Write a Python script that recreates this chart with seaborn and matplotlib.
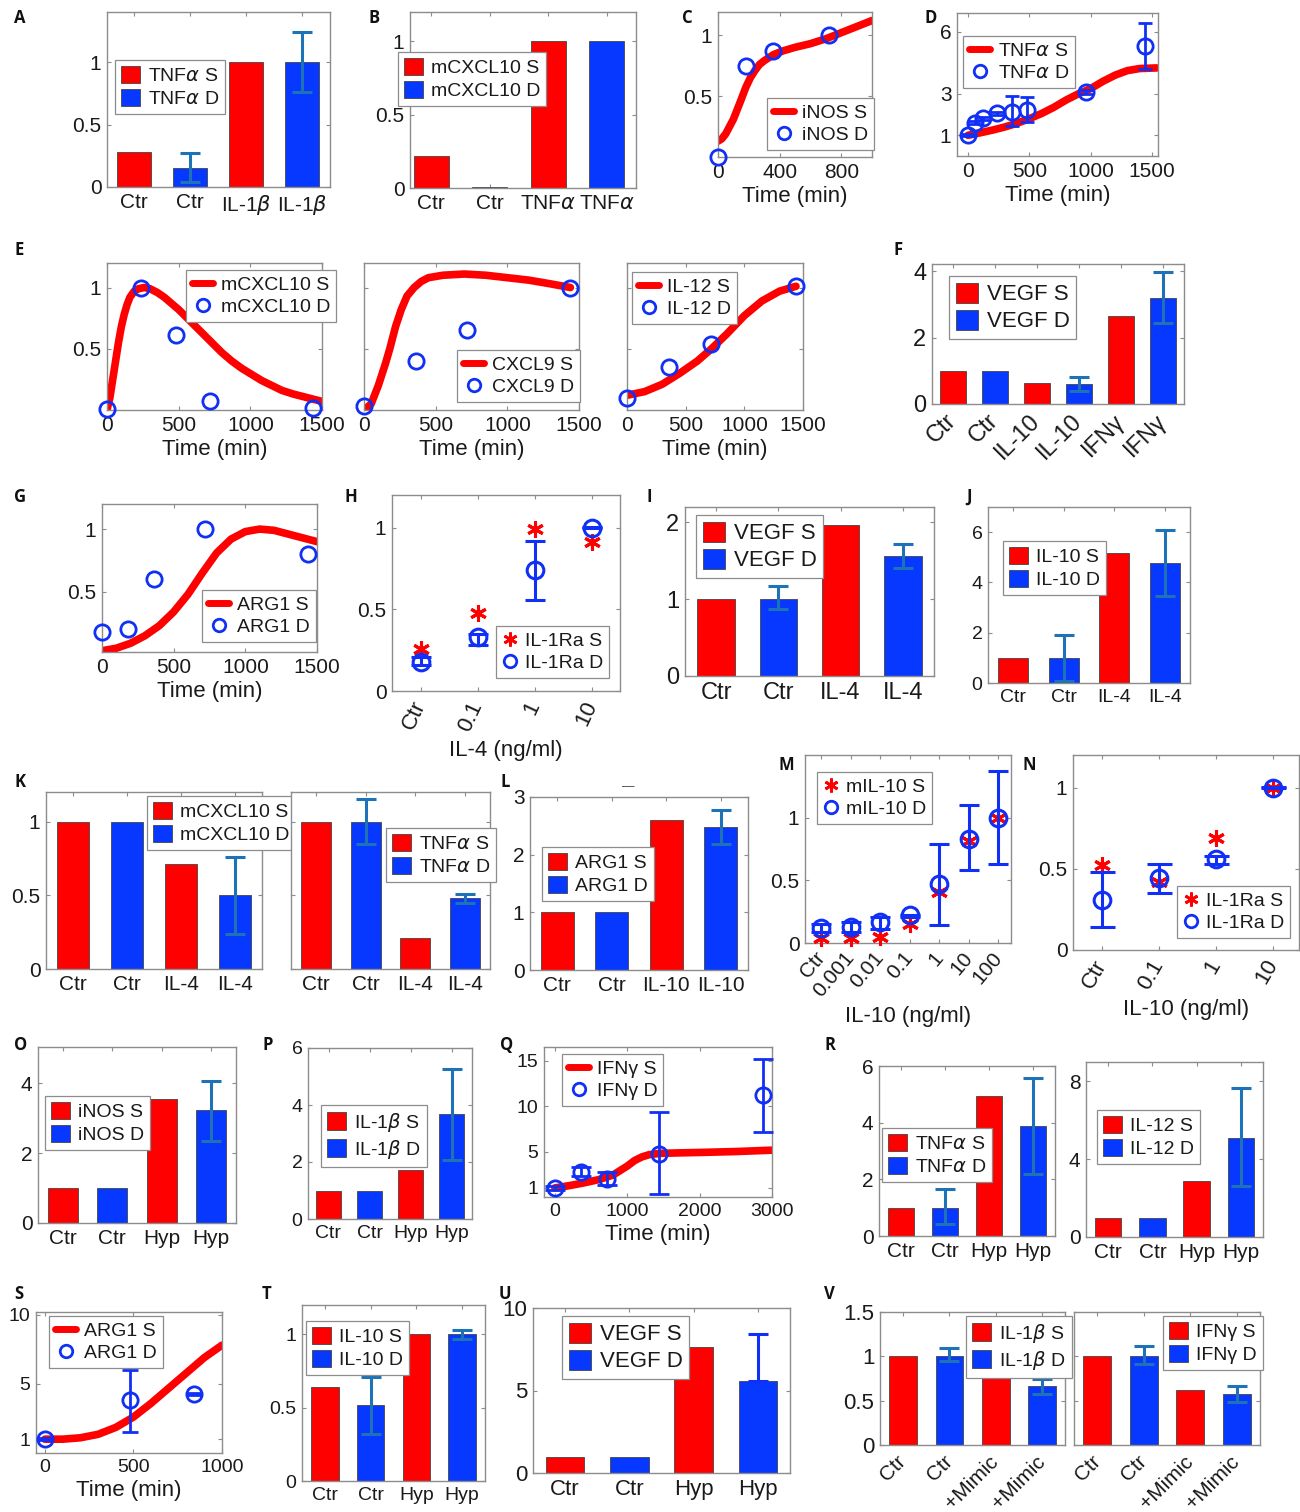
import numpy as np
import pandas as pd
import matplotlib
matplotlib.use("Agg")
import matplotlib.pyplot as plt
import seaborn as sns
from matplotlib.patches import Patch
from matplotlib.lines import Line2D

sns.set_theme(style="white")
plt.rcParams['font.family'] = ['Liberation Sans', 'DejaVu Sans']
plt.rcParams['mathtext.fontset'] = 'dejavusans'

# ---------------- data ----------------
A_labels = ['Ctr', 'Ctr', r'IL-1$\beta$', r'IL-1$\beta$']
A_vals = [0.28, 0.15, 1.0, 1.0]
A_lo = [None, 0.04, None, 0.76]
A_hi = [None, 0.27, None, 1.24]

B_labels = ['Ctr', 'Ctr', r'TNF$\alpha$', r'TNF$\alpha$']
B_vals = [0.22, 0.01, 1.0, 1.0]

C_curve_t = [0, 25, 50, 75, 100, 125, 150, 180, 210, 240, 270, 300, 360, 420, 500, 600, 700, 800, 900, 1000]
C_curve_v = [0.13, 0.15, 0.19, 0.25, 0.31, 0.39, 0.47, 0.57, 0.65, 0.71, 0.76, 0.79, 0.84, 0.87, 0.90, 0.93, 0.97, 1.02, 1.07, 1.12]
C_pts_t = [0, 180, 360, 720]
C_pts_v = [0.0, 0.75, 0.87, 1.0]

D_curve_t = [0, 100, 200, 300, 400, 500, 600, 700, 800, 900, 1000, 1100, 1200, 1300, 1400, 1540]
D_curve_v = [1.0, 1.12, 1.25, 1.4, 1.58, 1.8, 2.05, 2.35, 2.7, 3.0, 3.25, 3.6, 3.9, 4.12, 4.22, 4.25]
D_pts_t = [0, 60, 120, 240, 360, 480, 960, 1440]
D_pts_v = [1.0, 1.6, 1.82, 2.06, 2.14, 2.2, 3.1, 5.3]
D_lo = [0.95, 1.52, 1.74, 1.98, 1.43, 1.66, 3.0, 4.2]
D_hi = [1.05, 1.68, 1.9, 2.14, 2.88, 2.85, 3.2, 6.4]

E1_curve_t = [0, 20, 40, 60, 80, 100, 120, 140, 160, 190, 220, 260, 300, 350, 400, 450, 500, 560, 620,
              680, 740, 800, 870, 940, 1010, 1080, 1150, 1220, 1300, 1400, 1500]
E1_curve_v = [0.0, 0.1, 0.25, 0.4, 0.55, 0.68, 0.78, 0.86, 0.92, 0.97, 0.99, 1.0, 0.99, 0.96, 0.92, 0.87,
              0.82, 0.75, 0.68, 0.61, 0.54, 0.47, 0.4, 0.34, 0.29, 0.24, 0.2, 0.16, 0.13, 0.1, 0.07]
E1_pts_t = [0, 240, 480, 720, 1440]
E1_pts_v = [0.01, 1.0, 0.61, 0.07, 0.02]

E2_curve_t = [0, 50, 100, 150, 180, 220, 260, 300, 350, 400, 450, 550, 700, 850, 1000, 1150, 1300, 1440]
E2_curve_v = [0.0, 0.05, 0.2, 0.38, 0.5, 0.68, 0.82, 0.93, 1.0, 1.05, 1.08, 1.1, 1.11, 1.1, 1.08, 1.06, 1.03, 1.0]
E2_pts_t = [0, 360, 720, 1440]
E2_pts_v = [0.03, 0.4, 0.65, 1.0]

E3_curve_t = [0, 150, 300, 450, 600, 720, 850, 1000, 1150, 1300, 1440]
E3_curve_v = [0.12, 0.15, 0.21, 0.3, 0.4, 0.5, 0.62, 0.77, 0.89, 0.97, 1.01]
E3_pts_t = [0, 360, 720, 1440]
E3_pts_v = [0.1, 0.35, 0.54, 1.01]

F_labels = ['Ctr', 'Ctr', 'IL-10', 'IL-10', 'IFNγ', 'IFNγ']
F_vals = [1.0, 1.0, 0.62, 0.59, 2.66, 3.19]
F_lo = [None, None, None, 0.4, None, 2.43]
F_hi = [None, None, None, 0.8, None, 3.97]

G_curve_t = [0, 100, 200, 300, 400, 500, 600, 700, 800, 900, 1000, 1100, 1200, 1300, 1400, 1500]
G_curve_v = [0.03, 0.05, 0.09, 0.15, 0.23, 0.34, 0.48, 0.65, 0.81, 0.92, 0.98, 1.0, 0.99, 0.96, 0.93, 0.9]
G_pts_t = [0, 180, 360, 720, 1440]
G_pts_v = [0.18, 0.2, 0.6, 1.0, 0.8]

H_labels = ['Ctr', '0.1', '1', '10']
H_S = [0.26, 0.48, 0.99, 0.91]
H_D = [0.18, 0.33, 0.74, 1.0]
H_lo = [0.16, 0.28, 0.56, 0.995]
H_hi = [0.21, 0.35, 0.92, 1.005]

I_labels = ['Ctr', 'Ctr', 'IL-4', 'IL-4']
I_vals = [1.0, 1.0, 1.97, 1.56]
I_lo = [None, 0.87, None, 1.4]
I_hi = [None, 1.17, None, 1.72]

J_labels = ['Ctr', 'Ctr', 'IL-4', 'IL-4']
J_vals = [1.0, 1.0, 5.16, 4.76]
J_lo = [None, 0.09, None, 3.47]
J_hi = [None, 1.89, None, 6.07]

K1_labels = ['Ctr', 'Ctr', 'IL-4', 'IL-4']
K1_vals = [1.0, 1.0, 0.71, 0.5]
K1_lo = [None, None, None, 0.24]
K1_hi = [None, None, None, 0.76]

K2_vals = [1.0, 1.0, 0.21, 0.48]
K2_lo = [None, 0.85, None, 0.45]
K2_hi = [None, 1.15, None, 0.51]

L_labels = ['Ctr', 'Ctr', 'IL-10', 'IL-10']
L_vals = [1.0, 1.0, 2.6, 2.48]
L_lo = [None, None, None, 2.18]
L_hi = [None, None, None, 2.77]

M_labels = ['Ctr', '0.001', '0.01', '0.1', '1', '10', '100']
M_S = [0.04, 0.04, 0.05, 0.15, 0.41, 0.81, 1.0]
M_D = [0.12, 0.13, 0.165, 0.22, 0.47, 0.83, 1.0]
M_lo = [0.085, 0.085, 0.115, 0.205, 0.14, 0.58, 0.63]
M_hi = [0.15, 0.17, 0.21, 0.225, 0.79, 1.1, 1.37]

N_labels = ['Ctr', '0.1', '1', '10']
N_S = [0.52, 0.42, 0.69, 1.0]
N_D = [0.31, 0.44, 0.56, 1.0]
N_lo = [0.14, 0.35, 0.53, 0.995]
N_hi = [0.48, 0.53, 0.58, 1.005]

O_labels = ['Ctr', 'Ctr', 'Hyp', 'Hyp']
O_vals = [1.0, 1.0, 3.55, 3.22]
O_lo = [None, None, None, 2.34]
O_hi = [None, None, None, 4.05]

P_vals = [1.0, 1.0, 1.72, 3.68]
P_lo = [None, None, None, 2.08]
P_hi = [None, None, None, 5.28]

Q_curve_t = [0, 200, 400, 600, 800, 900, 1000, 1100, 1200, 1300, 1450, 1700, 2000, 2500, 3000]
Q_curve_v = [1.0, 1.25, 1.55, 1.9, 2.4, 2.9, 3.4, 4.0, 4.4, 4.65, 4.8, 4.85, 4.9, 5.0, 5.15]
Q_pts_t = [0, 360, 720, 1440, 2880]
Q_pts_v = [1.0, 2.8, 2.0, 4.7, 11.2]
Q_lo = [0.8, 2.3, 1.3, 0.3, 7.1]
Q_hi = [1.2, 3.3, 2.7, 9.3, 15.2]

R1_vals = [1.0, 1.0, 4.94, 3.88]
R1_lo = [None, 0.42, None, 2.19]
R1_hi = [None, 1.65, None, 5.56]

R2_vals = [1.0, 1.0, 2.87, 5.11]
R2_lo = [None, None, None, 2.62]
R2_hi = [None, None, None, 7.66]

S_curve_t = [0, 100, 200, 300, 400, 500, 600, 700, 800, 900, 1000]
S_curve_v = [1.0, 1.0, 1.1, 1.35, 1.85, 2.6, 3.6, 4.7, 5.8, 6.9, 7.8]
S_pts_t = [0, 480, 840]
S_pts_v = [1.0, 3.8, 4.3]
S_lo = [0.93, 1.5, 4.23]
S_hi = [1.07, 6.0, 4.37]

T_vals = [0.64, 0.52, 1.0, 1.0]
T_lo = [None, 0.32, None, 0.97]
T_hi = [None, 0.71, None, 1.03]

U_vals = [1.0, 1.0, 7.63, 5.6]
U_hi = [None, None, None, 8.42]

V_labels = ['Ctr', 'Ctr', '+Mimic', '+Mimic']
V1_vals = [1.0, 1.0, 0.85, 0.66]
V1_lo = [None, 0.95, None, 0.58]
V1_hi = [None, 1.09, None, 0.75]
V2_vals = [1.0, 1.0, 0.62, 0.57]
V2_lo = [None, 0.91, None, 0.48]
V2_hi = [None, 1.12, None, 0.67]

# ---------------- styling ----------------
W, H = 1300, 1512
RED = '#ff0000'
BLUE = '#0638ff'
PBLUE = '#1030f5'
ERR = '#1f72b5'
EDGE = '#444444'
SPINE = '#8c8c8c'
TXT = '#1a1a1a'

fig = plt.figure(figsize=(W / 100, H / 100), dpi=100)
fig.patch.set_facecolor('white')


def add_ax(l, t, r, b):
    return fig.add_axes([l / W, 1 - b / H, (r - l) / W, (b - t) / H])


def style(ax, fs):
    for s in ax.spines.values():
        s.set_visible(True)
        s.set_color(SPINE)
        s.set_linewidth(1.0)
    ax.tick_params(direction='in', length=3, width=0.8, color=SPINE,
                   bottom=True, left=True, top=True, right=True,
                   labelsize=fs, labelcolor=TXT, pad=4)
    ax.set_xlabel('')
    ax.set_ylabel('')
    ax.set_facecolor('white')


def legend(ax, handles, labels, xy, fs, hl=1.0, hh=1.0):
    leg = ax.legend(handles, labels, loc='upper left',
                    bbox_to_anchor=(xy[0] / W, 1 - xy[1] / H),
                    bbox_transform=fig.transFigure, fontsize=fs,
                    frameon=True, fancybox=False, framealpha=1,
                    edgecolor=SPINE, borderpad=0.3, labelspacing=0.2,
                    handlelength=hl, handleheight=hh, handletextpad=0.4,
                    borderaxespad=0)
    leg.get_frame().set_linewidth(0.9)
    leg.set_zorder(10)
    for t in leg.get_texts():
        t.set_color(TXT)
    return leg


def fmt(v):
    return f'{v:g}'


def bar_panel(box, labels, vals, gene, lo, hi, ylim, yticks, leg_xy,
              xlim=None, fs=15, lfs=14, rot=0, ecolor=ERR, show_yl=True,
              cap=7, upper_only=False, xfs=None):
    ax = add_ax(*box)
    n = len(vals)
    names = [gene + (' S' if i % 2 == 0 else ' D') for i in range(n)]
    df = pd.DataFrame({'pos': np.arange(n), 'val': vals, 'series': names})
    sns.barplot(data=df, x='pos', y='val', hue='series',
                hue_order=[gene + ' S', gene + ' D'], palette=[RED, BLUE],
                dodge=False, width=0.6, saturation=1, edgecolor=EDGE,
                linewidth=0.6, legend=False, errorbar=None, ax=ax)
    for i in range(n):
        if hi is None or hi[i] is None:
            continue
        low = 0 if upper_only else vals[i] - lo[i]
        ax.errorbar(i, vals[i], yerr=[[low], [hi[i] - vals[i]]], fmt='none',
                    ecolor=ecolor, elinewidth=2.2, capsize=cap, capthick=2.2,
                    zorder=5)
    ax.set_xlim(*(xlim if xlim else (-0.5, n - 0.5)))
    ax.set_ylim(*ylim)
    ax.set_yticks(yticks)
    ax.set_yticklabels([fmt(v) for v in yticks] if show_yl else [])
    ax.set_xticks(range(n))
    if rot:
        ax.set_xticklabels(labels, rotation=rot, ha='right', va='center',
                           rotation_mode='anchor')
    else:
        ax.set_xticklabels(labels)
    style(ax, fs)
    if xfs:
        ax.tick_params(axis='x', labelsize=xfs)
    if rot:
        ax.tick_params(axis='x', pad=10)
    handles = [Patch(facecolor=RED, edgecolor=EDGE, linewidth=0.6),
               Patch(facecolor=BLUE, edgecolor=EDGE, linewidth=0.6)]
    legend(ax, handles, [gene + ' S', gene + ' D'], leg_xy, lfs)
    return ax


def line_handles():
    return [Line2D([0], [0], color=RED, lw=5),
            Line2D([0], [0], ls='none', marker='o', ms=9, mfc='none',
                   mec=PBLUE, mew=2)]


def time_panel(box, tc, vc, tp, vp, lo, hi, gene, xlim, xticks, ylim, yticks,
               leg_xy, fs=15, lfs=14, show_yl=True, cap=6, xlabel='Time (min)',
               xfs=16):
    ax = add_ax(*box)
    sns.lineplot(x=tc, y=vc, color=RED, linewidth=5.5, ax=ax, zorder=2)
    if lo is not None:
        tp_a = np.array(tp, float)
        vp_a = np.array(vp, float)
        ax.errorbar(tp_a, vp_a, yerr=[vp_a - np.array(lo), np.array(hi) - vp_a],
                    fmt='none', ecolor=PBLUE, elinewidth=2, capsize=cap,
                    capthick=2, zorder=3, clip_on=False)
    sns.lineplot(x=tp, y=vp, linestyle='none', marker='o', markersize=11,
                 markerfacecolor='none', markeredgecolor=PBLUE,
                 markeredgewidth=2, ax=ax, zorder=4, clip_on=False)
    ax.set_xlim(*xlim)
    ax.set_xticks(xticks)
    ax.set_xticklabels([fmt(v) for v in xticks])
    ax.set_ylim(*ylim)
    ax.set_yticks(yticks)
    ax.set_yticklabels([fmt(v) for v in yticks] if show_yl else [])
    style(ax, fs)
    if xlabel:
        ax.set_xlabel(xlabel, fontsize=xfs, color=TXT, labelpad=3)
    legend(ax, line_handles(), [gene + ' S', gene + ' D'], leg_xy, lfs, hl=1.1, hh=0.8)
    return ax


STAR = (6, 2, 0)


def point_panel(box, labels, s_vals, d_vals, lo, hi, gene, ylim, yticks, xlim,
                xlabel, leg_xy, rot, fs=15, lfs=14, cap=7, xfs=16, tfs=16):
    ax = add_ax(*box)
    pos = np.arange(len(labels))
    d = np.array(d_vals, float)
    sns.lineplot(x=pos, y=s_vals, linestyle='none', marker=STAR, markersize=12,
                 color=RED, markeredgecolor=RED, markeredgewidth=2.2, ax=ax,
                 zorder=3, clip_on=False)
    ax.errorbar(pos, d, yerr=[d - np.array(lo), np.array(hi) - d], fmt='none',
                ecolor=PBLUE, elinewidth=2.2, capsize=cap, capthick=2.2,
                zorder=4, clip_on=False)
    sns.lineplot(x=pos, y=d, linestyle='none', marker='o', markersize=12,
                 markerfacecolor='none', markeredgecolor=PBLUE,
                 markeredgewidth=2.2, ax=ax, zorder=5, clip_on=False)
    ax.set_xlim(*xlim)
    ax.set_ylim(*ylim)
    ax.set_yticks(yticks)
    ax.set_yticklabels([fmt(v) for v in yticks])
    ax.set_xticks(pos)
    ax.set_xticklabels(labels, rotation=rot, ha='right', va='center',
                       rotation_mode='anchor')
    style(ax, fs)
    ax.tick_params(axis='x', pad=8, labelsize=tfs)
    ax.set_xlabel(xlabel, fontsize=xfs, color=TXT, labelpad=4)
    handles = [Line2D([0], [0], ls='none', marker=STAR, ms=10, color=RED, mew=2),
               Line2D([0], [0], ls='none', marker='o', ms=9, mfc='none',
                      mec=PBLUE, mew=2)]
    legend(ax, handles, [gene + ' S', gene + ' D'], leg_xy, lfs, hl=0.8, hh=0.8)
    return ax


TNF = r'TNF$\alpha$'
IL1B = r'IL-1$\beta$'

# ---------------- row 1 ----------------
bar_panel((107, 12, 330, 187), A_labels, A_vals, TNF, A_lo, A_hi, (0, 1.4),
          [0, 0.5, 1], (115, 60), xlim=(-0.48, 3.5))
bar_panel((410, 12, 636, 188), B_labels, B_vals, 'mCXCL10', None, None,
          (0, 1.2), [0, 0.5, 1], (398, 52), xlim=(-0.36, 3.5))
time_panel((718, 12, 872, 157), C_curve_t, C_curve_v, C_pts_t, C_pts_v, None,
           None, 'iNOS', (0, 1000), [0, 400, 800], (0, 1.19), [0.5, 1],
           (767, 98))
time_panel((957, 13, 1158, 156), D_curve_t, D_curve_v, D_pts_t, D_pts_v, D_lo,
           D_hi, TNF, (-90, 1550), [0, 500, 1000, 1500], (0, 6.9), [1, 3, 6],
           (963, 36), cap=5)

# ---------------- row 2 ----------------
time_panel((107, 263, 322, 410), E1_curve_t, E1_curve_v, E1_pts_t, E1_pts_v,
           None, None, 'mCXCL10', (0, 1500), [0, 500, 1000, 1500], (0, 1.2),
           [0.5, 1], (186, 270))
time_panel((364, 263, 579, 410), E2_curve_t, E2_curve_v, E2_pts_t, E2_pts_v,
           None, None, 'CXCL9', (0, 1500), [0, 500, 1000, 1500], (0, 1.2),
           [0.5, 1], (457, 350), show_yl=False)
time_panel((627, 263, 803, 410), E3_curve_t, E3_curve_v, E3_pts_t, E3_pts_v,
           None, None, 'IL-12', (0, 1500), [0, 500, 1000, 1500], (0, 1.2),
           [0.5, 1], (632, 272), show_yl=False)
bar_panel((932, 264, 1184, 404), F_labels, F_vals, 'VEGF', F_lo, F_hi,
          (0, 4.22), [0, 2, 4], (949, 276), fs=17, lfs=16, rot=45)

# ---------------- row 3 ----------------
time_panel((102, 504, 317, 652), G_curve_t, G_curve_v, G_pts_t, G_pts_v, None,
           None, 'ARG1', (0, 1500), [0, 500, 1000, 1500], (0.02, 1.2),
           [0.5, 1], (202, 590))
point_panel((392, 495, 620, 691), H_labels, H_S, H_D, H_lo, H_hi, 'IL-1Ra',
            (0, 1.2), [0, 0.5, 1], (-0.5, 3.5), 'IL-4 (ng/ml)', (496, 626),
            rot=65, cap=7)
bar_panel((685, 507, 934, 676), I_labels, I_vals, 'VEGF', I_lo, I_hi,
          (0, 2.2), [0, 1, 2], (696, 515), fs=17, lfs=16)
bar_panel((988, 507, 1190, 683), J_labels, J_vals, 'IL-10', J_lo, J_hi,
          (0, 7.0), [0, 2, 4, 6], (1003, 541), fs=14, lfs=14)

# ---------------- row 4 ----------------
bar_panel((46, 792, 262, 969), K1_labels, K1_vals, 'mCXCL10', K1_lo, K1_hi,
          (0, 1.2), [0, 0.5, 1], (147, 796))
bar_panel((291, 792, 490, 969), K1_labels, K2_vals, TNF, K2_lo, K2_hi,
          (0, 1.2), [0, 0.5, 1], (386, 828), show_yl=False)
bar_panel((530, 797, 748, 970), L_labels, L_vals, 'ARG1', L_lo, L_hi,
          (0, 3.0), [0, 1, 2, 3], (542, 847))
fig.text(628 / W, 1 - 787 / H, '—', fontsize=9, color='#444444', ha='center',
         va='center')
point_panel((805, 755, 1011, 943), M_labels, M_S, M_D, M_lo, M_hi, 'mIL-10',
            (0, 1.5), [0, 0.5, 1], (-0.55, 6.43), 'IL-10 (ng/ml)', (817, 772),
            rot=50, cap=7, tfs=15)
point_panel((1073, 755, 1299, 950), N_labels, N_S, N_D, N_lo, N_hi, 'IL-1Ra',
            (0, 1.2), [0, 0.5, 1], (-0.5, 3.45), 'IL-10 (ng/ml)', (1177, 886),
            rot=60, cap=9)

# ---------------- row 5 ----------------
bar_panel((38, 1047, 236, 1223), O_labels, O_vals, 'iNOS', O_lo, O_hi,
          (0, 5.03), [0, 2, 4], (45, 1096))
bar_panel((308, 1048, 472, 1219), O_labels, P_vals, IL1B, P_lo, P_hi,
          (0, 6.0), [0, 2, 4, 6], (321, 1105), fs=14)
time_panel((544, 1047, 772, 1197), Q_curve_t, Q_curve_v, Q_pts_t, Q_pts_v,
           Q_lo, Q_hi, 'IFNγ', (-150, 3000), [0, 1000, 2000, 3000],
           (0, 16.5), [1, 5, 10, 15], (562, 1054), fs=14, cap=7)
bar_panel((879, 1066, 1055, 1236), O_labels, R1_vals, TNF, R1_lo, R1_hi,
          (0, 6.0), [0, 2, 4, 6], (882, 1128))
bar_panel((1086, 1062, 1263, 1237), O_labels, R2_vals, 'IL-12', R2_lo, R2_hi,
          (0, 9.0), [0, 4, 8], (1097, 1110))

# ---------------- row 6 ----------------
time_panel((36, 1312, 222, 1453), S_curve_t, S_curve_v, S_pts_t, S_pts_v, S_lo,
           S_hi, 'ARG1', (-50, 1000), [0, 500, 1000], (0, 10.2), [1, 5, 10],
           (49, 1316), fs=14, cap=6)
bar_panel((302, 1305, 485, 1481), O_labels, T_vals, 'IL-10', T_lo, T_hi,
          (0, 1.2), [0, 0.5, 1], (306, 1321), fs=14)
bar_panel((533, 1308, 790, 1473), O_labels, U_vals, 'VEGF', None, U_hi,
          (0, 10.0), [0, 5, 10], (562, 1316), fs=16, lfs=16, ecolor=PBLUE,
          upper_only=True)
bar_panel((880, 1312, 1065, 1445), V_labels, V1_vals, IL1B, V1_lo, V1_hi,
          (0, 1.5), [0, 0.5, 1, 1.5], (966, 1316), fs=16, rot=45, xfs=15)
bar_panel((1074, 1312, 1260, 1445), V_labels, V2_vals, 'IFNγ', V2_lo, V2_hi,
          (0, 1.5), [0, 0.5, 1, 1.5], (1163, 1316), fs=16, rot=45,
          show_yl=False, xfs=15)

# ---------------- panel letters ----------------
letters = {'A': (14, 18), 'B': (369, 18), 'C': (682, 18), 'D': (925, 18),
           'E': (14, 250), 'F': (893, 250), 'G': (14, 497), 'H': (344, 497),
           'I': (646, 497), 'J': (966, 497), 'K': (14, 782), 'L': (500, 782),
           'M': (778, 765), 'N': (1022, 765), 'O': (14, 1045), 'P': (262, 1045),
           'Q': (500, 1045), 'R': (824, 1045), 'S': (14, 1294), 'T': (262, 1294),
           'U': (499, 1294), 'V': (824, 1294)}
for k, (x, y) in letters.items():
    fig.text(x / W, 1 - y / H, k, fontsize=12, fontweight='bold', ha='left',
             va='center', family=['Open Sans', 'DejaVu Sans'], color='#111111')

fig.savefig('out.png', dpi=100, facecolor='white')
